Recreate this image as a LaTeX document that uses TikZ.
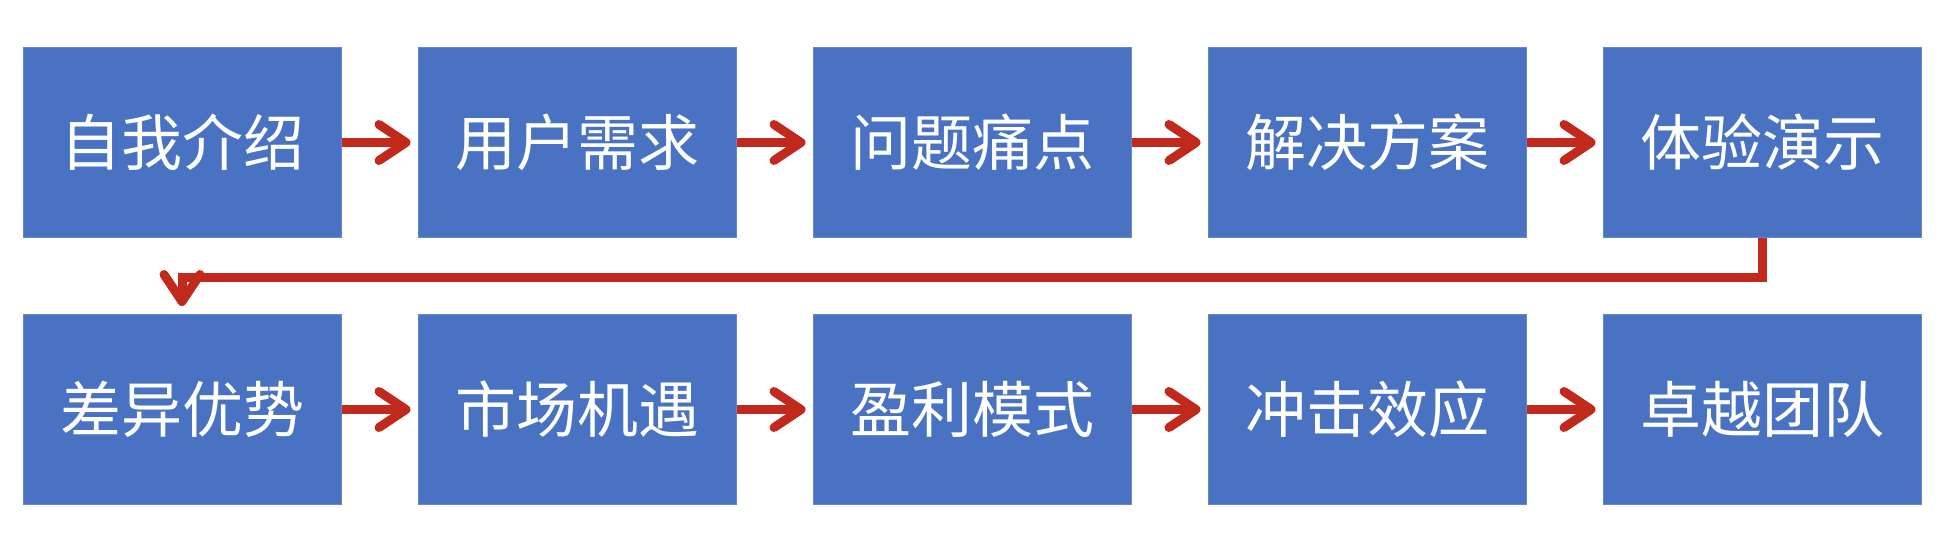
\documentclass[tikz,border=0pt]{standalone}
\usepackage{fontspec}
\setmainfont{Noto Sans CJK SC}
\usepackage{tikz}
\usetikzlibrary{arrows.meta, calc, positioning}
\definecolor{stepblue}{HTML}{4A72C3}
\definecolor{flowred}{HTML}{C0291C}

\begin{document}
\begin{tikzpicture}[
  x=1pt, y=-1pt,
  stepbox/.style = {fill=stepblue, draw=stepblue!85!white, line width=1pt, minimum width=318pt, minimum height=190pt, inner sep=0pt, align=center, text=white, font=\fontsize{61}{64}\selectfont},
  arr/.style     = {-{Straight Barb[length=27pt,width=36pt,line cap=round,line join=round]}, line width=9pt, color=flowred, shorten >=7pt},
]
\useasboundingbox (0,0) rectangle (1954,540);
% first row
\node[stepbox] (intro)    at (182, 142.5)  {自我介绍};
\node[stepbox] (needs)    at (577, 142.5)  {用户需求};
\node[stepbox] (pain)     at (972, 142.5)  {问题痛点};
\node[stepbox] (solution) at (1367, 142.5) {解决方案};
\node[stepbox] (demo)     at (1762, 142.5) {体验演示};
% second row
\node[stepbox] (edge)     at (182, 409.5)  {差异优势};
\node[stepbox] (market)   at (577, 409.5)  {市场机遇};
\node[stepbox] (profit)   at (972, 409.5)  {盈利模式};
\node[stepbox] (impact)   at (1367, 409.5) {冲击效应};
\node[stepbox] (team)     at (1762, 409.5) {卓越团队};
\draw[arr] (intro.east) -- (needs.west);
\draw[arr] (needs.east) -- (pain.west);
\draw[arr] (pain.east) -- (solution.west);
\draw[arr] (solution.east) -- (demo.west);
\draw[arr, shorten >=8pt] (demo.south) -- ++(0,39) -| (edge.north);
\draw[arr] (edge.east) -- (market.west);
\draw[arr] (market.east) -- (profit.west);
\draw[arr] (profit.east) -- (impact.west);
\draw[arr] (impact.east) -- (team.west);
\end{tikzpicture}
\end{document}
